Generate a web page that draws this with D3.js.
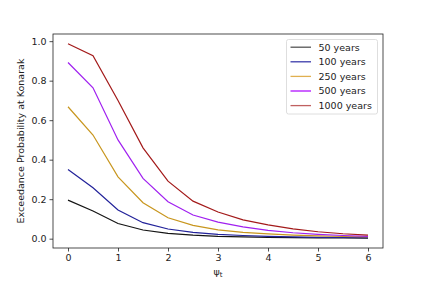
<!DOCTYPE html>
<html>
<head>
<meta charset="utf-8">
<script src="https://cdn.jsdelivr.net/npm/d3@7/dist/d3.min.js"></script>
<style>
  body { margin: 0; background: white; }
  text { font-family: "DejaVu Sans", sans-serif; }
</style>
</head>
<body>
<svg id="chart"></svg>
<script>
// Data
var psi = [0, 0.5, 1, 1.5, 2, 2.5, 3, 3.5, 4, 4.5, 5, 5.5, 6]
var labels = ["50 years", "100 years", "250 years", "500 years", "1000 years"]
var p50   = [0.195, 0.140, 0.077, 0.044, 0.027, 0.018, 0.012, 0.009, 0.007, 0.005, 0.004, 0.004, 0.003]
var p100  = [0.350, 0.258, 0.145, 0.081, 0.049, 0.032, 0.022, 0.016, 0.012, 0.009, 0.007, 0.006, 0.005]
var p250  = [0.668, 0.525, 0.313, 0.182, 0.106, 0.067, 0.045, 0.032, 0.024, 0.018, 0.014, 0.011, 0.009]
var p500  = [0.892, 0.764, 0.500, 0.305, 0.187, 0.120, 0.084, 0.060, 0.042, 0.030, 0.022, 0.016, 0.012]
var p1000 = [0.987, 0.926, 0.700, 0.460, 0.291, 0.190, 0.135, 0.095, 0.070, 0.050, 0.035, 0.025, 0.018]
var series = [p50, p100, p250, p500, p1000]
var xTicks = [0, 1, 2, 3, 4, 5, 6]
var yTicks = [0, 0.2, 0.4, 0.6, 0.8, 1.0]

var lineColors = ["#141414", "#22229a", "#c8961e", "#a020f0", "#a31a1a"]
var legendColors = ["#555555", "#3a3aaa", "#e0b050", "#b010ff", "#c06060"]

var fontSize = "9.5px"

var dimensions = {
    width: 425,
    height: 284,
    margin: { top: 34, bottom: 36, right: 42, left: 53 }
}
var innerW = dimensions.width - dimensions.margin.left - dimensions.margin.right
var innerH = dimensions.height - dimensions.margin.top - dimensions.margin.bottom

var svg = d3.select("#chart")
    .attr("width", dimensions.width)
    .attr("height", dimensions.height)

var g = svg.append("g")
    .attr("transform", `translate(${dimensions.margin.left},${dimensions.margin.top})`)

var x = d3.scaleLinear().domain([-0.3, 6.3]).range([0, innerW])
var y = d3.scaleLinear().domain([-0.0472, 1.0363]).range([innerH, 0])

// Lines
var line = d3.line()
    .x((d, i) => x(psi[i]))
    .y(d => y(d))

series.forEach((s, i) => {
    g.append("path")
        .datum(s)
        .attr("d", line)
        .attr("fill", "none")
        .attr("stroke", lineColors[i])
        .attr("stroke-width", 1.2)
})

// Axes
var xAxis = g.append("g")
    .attr("transform", `translate(0,${innerH})`)
    .call(d3.axisBottom(x).tickValues(xTicks).tickFormat(d3.format("d")).tickSize(3.5).tickPadding(3))
var yAxis = g.append("g")
    .call(d3.axisLeft(y).tickValues(yTicks).tickFormat(d3.format(".1f")).tickSize(3.5).tickPadding(3))

;[xAxis, yAxis].forEach(a => {
    a.select(".domain").remove()
    a.selectAll("line").attr("stroke", "#222").attr("stroke-width", 0.8)
    a.selectAll("text").style("font-size", fontSize).style("fill", "#222")
        .style("font-family", "DejaVu Sans")
})

// Frame
g.append("rect")
    .attr("x", 0).attr("y", 0)
    .attr("width", innerW).attr("height", innerH)
    .attr("fill", "none")
    .attr("stroke", "#222")
    .attr("stroke-width", 0.8)

// Axis labels
var xLabel = svg.append("text")
    .attr("x", dimensions.margin.left + innerW / 2)
    .attr("y", 275)
    .attr("text-anchor", "middle")
    .style("font-size", fontSize)
    .style("fill", "#222")
xLabel.append("tspan").text("ψ").style("fill", "#222")
xLabel.append("tspan").attr("dy", 2).style("font-size", "7px").style("fill", "#222").text("t")

svg.append("text")
    .attr("transform", `translate(24,${dimensions.margin.top + innerH / 2}) rotate(-90)`)
    .attr("text-anchor", "middle")
    .style("font-size", fontSize)
    .style("fill", "#222")
    .text("Exceedance Probability at Konarak")

// Legend
var legend = svg.append("g").attr("transform", "translate(286.5,39.5)")
legend.append("rect")
    .attr("width", 91).attr("height", 74.5)
    .attr("rx", 2)
    .attr("fill", "white")
    .attr("fill-opacity", 0.8)
    .attr("stroke", "#d6d6d6")
    .attr("stroke-width", 0.8)

labels.forEach((lab, i) => {
    var yy = 7.7 + i * 14.6
    legend.append("line")
        .attr("x1", 4).attr("x2", 24.5)
        .attr("y1", yy).attr("y2", yy)
        .attr("stroke", legendColors[i])
        .attr("stroke-width", 1.3)
    legend.append("text")
        .attr("x", 32).attr("y", yy + 3.4)
        .style("font-size", fontSize)
        .style("fill", "#222")
        .text(lab)
})
</script>
</body>
</html>
